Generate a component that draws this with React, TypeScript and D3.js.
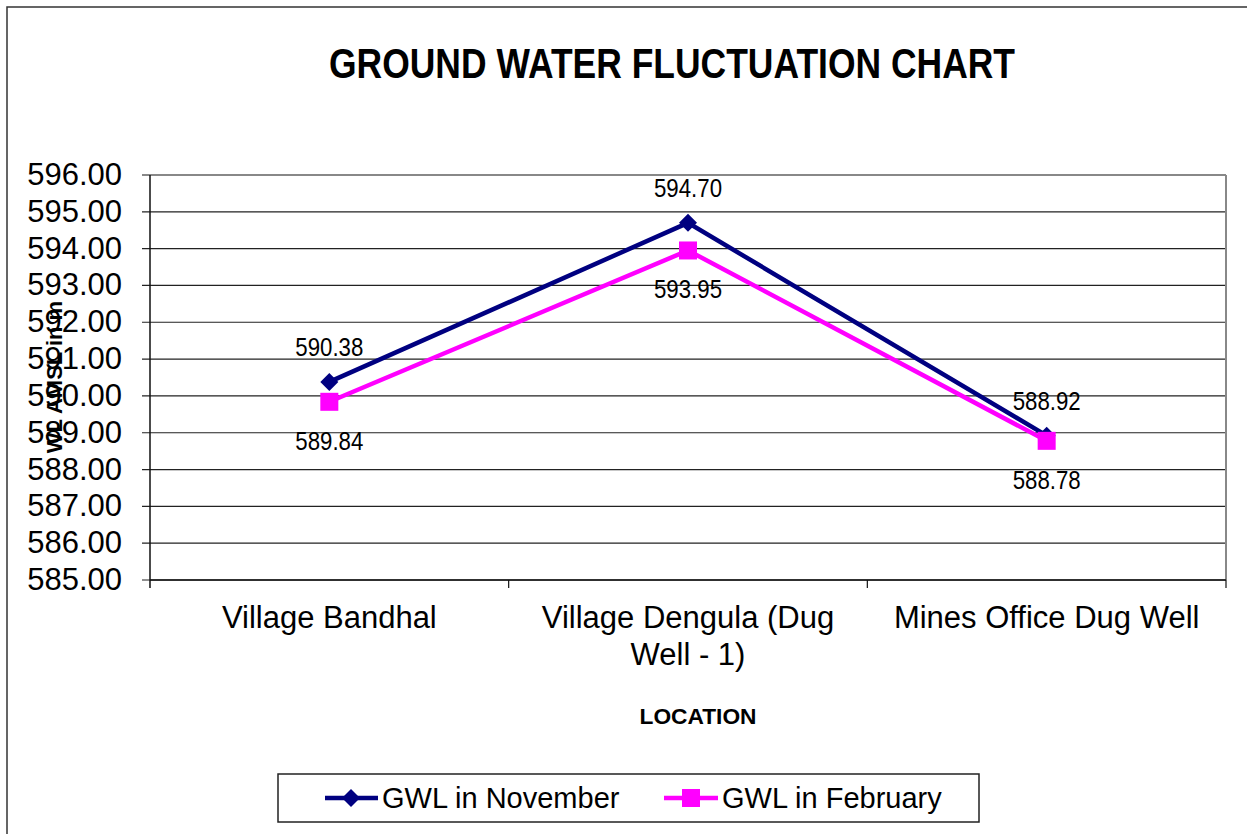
import React from 'react';
import * as d3 from 'd3';

const categories = ['Village Bandhal', 'Village Dengula (Dug Well - 1)', 'Mines Office Dug Well'];
const categoryLines = [['Village Bandhal'], ['Village Dengula (Dug', 'Well - 1)'], ['Mines Office Dug Well']];
const novemberValues = [590.38, 594.7, 588.92];
const februaryValues = [589.84, 593.95, 588.78];
const yTicks = [585, 586, 587, 588, 589, 590, 591, 592, 593, 594, 595, 596];

const W = 1247, H = 834;
const plot = { left: 150, right: 1226, top: 175, bottom: 580 };
const font = 'Arial, "Liberation Sans", sans-serif';
const NAVY = '#000080', MAGENTA = '#ff00ff';

export default function App() {
  const x = d3.scaleBand().domain(categories).range([plot.left, plot.right]);
  const y = d3.scaleLinear().domain([585, 596]).range([plot.bottom, plot.top]);
  const cx = (c: string) => (x(c) as number) + x.bandwidth() / 2;
  const line = d3.line<number>().x((_, i) => cx(categories[i])).y(d => y(d));

  return (
    <svg width={W} height={H} style={{ position: 'absolute', left: 0, top: 0, background: '#fff' }}>
      {/* outer chart frame */}
      <rect x={7} y={7} width={1300} height={1000} fill="none" stroke="#333" strokeWidth={1.5} />

      <text x={672} y={78} textAnchor="middle" fontFamily={font} fontWeight="bold" fontSize={42}
        textLength={686} lengthAdjust="spacingAndGlyphs">GROUND WATER FLUCTUATION CHART</text>

      {/* gridlines */}
      {yTicks.map(t => (
        <line key={t} x1={plot.left - 8} x2={plot.right} y1={y(t)} y2={y(t)}
          stroke={t === 596 ? '#888' : '#222'} strokeWidth={t === 596 ? 2 : 1.2} />
      ))}
      <line x1={plot.right} x2={plot.right} y1={plot.top} y2={plot.bottom} stroke="#888" strokeWidth={2} />
      <line x1={plot.left} x2={plot.left} y1={plot.top} y2={plot.bottom + 8} stroke="#111" strokeWidth={1.5} />
      <line x1={plot.left} x2={plot.right} y1={plot.bottom} y2={plot.bottom} stroke="#111" strokeWidth={1.5} />
      {categories.map(c => {
        const bx = (x(c) as number) + x.bandwidth();
        return <line key={c} x1={bx} x2={bx} y1={plot.bottom} y2={plot.bottom + 8} stroke="#111" strokeWidth={1.2} />;
      })}

      {/* y tick labels */}
      {yTicks.map(t => (
        <text key={t} x={122} y={y(t) + 10} textAnchor="end" fontFamily={font} fontSize={31}>{t.toFixed(2)}</text>
      ))}

      {/* category labels */}
      {categories.map((c, i) => (
        <text key={c} x={cx(c)} y={628} textAnchor="middle" fontFamily={font} fontSize={31}>
          {categoryLines[i].map((l, j) => (
            <tspan key={j} x={cx(c)} dy={j === 0 ? 0 : 37}>{l}</tspan>
          ))}
        </text>
      ))}

      <text transform="translate(62,377) rotate(-90)" textAnchor="middle" fontFamily={font} fontWeight="bold" fontSize={22}>WL AMSL in m</text>
      <text x={698} y={724} textAnchor="middle" fontFamily={font} fontWeight="bold" fontSize={22}
        textLength={117} lengthAdjust="spacingAndGlyphs">LOCATION</text>

      {/* series */}
      <path d={line(novemberValues) || ''} fill="none" stroke={NAVY} strokeWidth={4.5} />
      <path d={line(februaryValues) || ''} fill="none" stroke={MAGENTA} strokeWidth={4.5} />
      {novemberValues.map((v, i) => {
        const px = cx(categories[i]), py = y(v);
        return <path key={i} d={`M${px},${py - 9}L${px + 9},${py}L${px},${py + 9}L${px - 9},${py}Z`} fill={NAVY} />;
      })}
      {februaryValues.map((v, i) => {
        const px = cx(categories[i]), py = y(v);
        return <rect key={i} x={px - 9} y={py - 9} width={18} height={18} fill={MAGENTA} />;
      })}

      {/* data labels */}
      {novemberValues.map((v, i) => (
        <text key={i} x={cx(categories[i])} y={y(v) - 26} textAnchor="middle" fontFamily={font} fontSize={26}
          textLength={68} lengthAdjust="spacingAndGlyphs">{v.toFixed(2)}</text>
      ))}
      {februaryValues.map((v, i) => (
        <text key={i} x={cx(categories[i])} y={y(v) + 48} textAnchor="middle" fontFamily={font} fontSize={26}
          textLength={68} lengthAdjust="spacingAndGlyphs">{v.toFixed(2)}</text>
      ))}

      {/* legend */}
      <rect x={278} y={774} width={701} height={48} fill="#fff" stroke="#222" strokeWidth={1.5} />
      <line x1={325} x2={378} y1={798} y2={798} stroke={NAVY} strokeWidth={4.5} />
      <path d="M351,789L360,798L351,807L342,798Z" fill={NAVY} />
      <text x={382} y={808} fontFamily={font} fontSize={29}>GWL in November</text>
      <line x1={664} x2={718} y1={798} y2={798} stroke={MAGENTA} strokeWidth={4.5} />
      <rect x={682} y={789} width={18} height={18} fill={MAGENTA} />
      <text x={722} y={808} fontFamily={font} fontSize={29}>GWL in February</text>
    </svg>
  );
}
